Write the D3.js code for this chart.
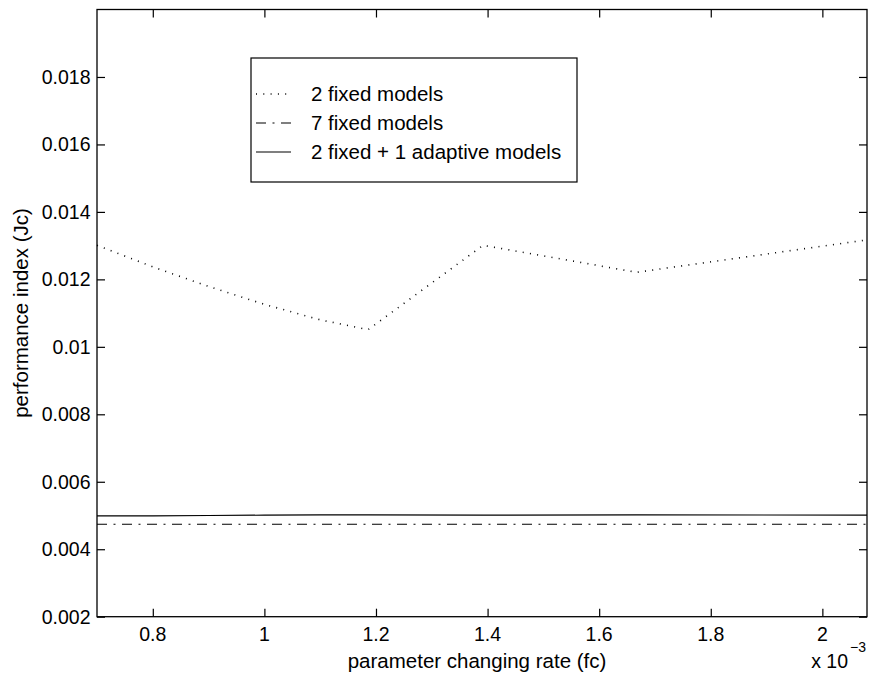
<!DOCTYPE html>
<html>
<head>
<meta charset="utf-8">
<script src="https://cdn.jsdelivr.net/npm/d3@7"></script>
<style>
  body { margin: 0; background: #fff; }
  svg { font-family: "Liberation Sans", Arial, Helvetica, sans-serif; }
</style>
</head>
<body>
<svg width="870" height="678"></svg>
<script>
// values (x in units of 1e-3)
var rates = [0.7, 0.8, 0.9, 1.0, 1.1, 1.186, 1.392, 1.667, 2.08];
var twoFixed = [0.01301, 0.01237, 0.01179, 0.01126, 0.01080, 0.01051, 0.01301, 0.01221, 0.01317];
var sevenFixed = [0.00474, 0.00474, 0.00474, 0.00474, 0.00474, 0.00474, 0.00474, 0.00474, 0.00474];
var adaptive = [0.00499, 0.00499, 0.00500, 0.00501, 0.00502, 0.00502, 0.00501, 0.00502, 0.00501];

var xTicks = [0.8, 1, 1.2, 1.4, 1.6, 1.8, 2];
var yTicks = [0.002, 0.004, 0.006, 0.008, 0.01, 0.012, 0.014, 0.016, 0.018];

var seriesNames = ["2 fixed models", "7 fixed models", "2 fixed + 1 adaptive models"];
var seriesValues = [twoFixed, sevenFixed, adaptive];
var seriesDash = ["1,6.3", "10,6.5,2,6.5", null];

var svg = d3.select("svg");

var pLeft = 97, pRight = 867, pTop = 9.5, pBottom = 616.7;

var scaleX = d3.scaleLinear()
               .domain([0.7, 2.08])
               .range([pLeft, pRight]);

var scaleY = d3.scaleLinear()
               .domain([0.002, 0.02])
               .range([pBottom, pTop]);

var fmt = function(d) { return String(+d.toFixed(4)); };

// axes (ticks pointing inward, like matlab)
svg.append("g")
    .attr("transform", "translate(0," + pBottom + ")")
    .call(d3.axisTop(scaleX).tickValues(xTicks).tickSize(8).tickFormat(""));

svg.append("g")
    .attr("transform", "translate(0," + pTop + ")")
    .call(d3.axisBottom(scaleX).tickValues(xTicks).tickSize(8).tickFormat(""));

svg.append("g")
    .attr("transform", "translate(" + pLeft + ",0)")
    .call(d3.axisRight(scaleY).tickValues(yTicks).tickSize(8).tickFormat(""));

svg.append("g")
    .attr("transform", "translate(" + pRight + ",0)")
    .call(d3.axisLeft(scaleY).tickValues(yTicks).tickSize(8).tickFormat(""));

svg.selectAll(".domain").remove();
svg.selectAll(".tick line").attr("stroke", "#000").attr("stroke-width", 1.2);

svg.append("rect")
    .attr("x", pLeft).attr("y", pTop)
    .attr("width", pRight - pLeft).attr("height", pBottom - pTop)
    .attr("fill", "none").attr("stroke", "#000").attr("stroke-width", 1.3);

// tick labels
svg.selectAll(".xlab")
    .data(xTicks)
    .enter()
    .append("text")
    .attr("x", function(d) { return scaleX(d); })
    .attr("y", 641)
    .attr("text-anchor", "middle")
    .attr("font-size", 19.5)
    .text(function(d) { return fmt(d); });

svg.selectAll(".ylab")
    .data(yTicks)
    .enter()
    .append("text")
    .attr("x", 90.5)
    .attr("y", function(d) { return scaleY(d) + 7; })
    .attr("text-anchor", "end")
    .attr("font-size", 19.5)
    .text(function(d) { return fmt(d); });

// axis titles
svg.append("text")
    .attr("x", 477).attr("y", 668)
    .attr("text-anchor", "middle")
    .attr("font-size", 20.5)
    .text("parameter changing rate (fc)");

svg.append("text")
    .attr("transform", "translate(28,313) rotate(-90)")
    .attr("text-anchor", "middle")
    .attr("font-size", 20.5)
    .text("performance index (Jc)");

svg.append("text")
    .attr("x", 848).attr("y", 668)
    .attr("text-anchor", "end")
    .attr("font-size", 19.5)
    .text("x 10");
svg.append("text")
    .attr("x", 850).attr("y", 652)
    .attr("font-size", 14)
    .text("\u22123");

// lines
var line = d3.line()
    .x(function(d, i) { return scaleX(rates[i]); })
    .y(function(d) { return scaleY(d); });

var plot = svg.append("g");

seriesValues.forEach(function(vals, k) {
  plot.append("path")
      .datum(vals)
      .attr("d", line)
      .attr("fill", "none")
      .attr("stroke", "#000")
      .attr("stroke-width", k == 0 ? 1.6 : 1.2)
      .attr("stroke-dasharray", seriesDash[k]);
});

// legend
var legend = svg.append("g");

legend.append("rect")
    .attr("x", 251).attr("y", 58)
    .attr("width", 326).attr("height", 124)
    .attr("fill", "#fff").attr("stroke", "#000").attr("stroke-width", 1.2);

seriesNames.forEach(function(name, k) {
  var cy = 94 + k * 29;
  legend.append("line")
      .attr("x1", 256).attr("x2", 291)
      .attr("y1", cy).attr("y2", cy)
      .attr("stroke", "#000")
      .attr("stroke-width", k == 0 ? 1.6 : 1.2)
      .attr("stroke-dasharray", seriesDash[k]);
  legend.append("text")
      .attr("x", 311).attr("y", cy + 7)
      .attr("font-size", 20.5)
      .text(name);
});
</script>
</body>
</html>
